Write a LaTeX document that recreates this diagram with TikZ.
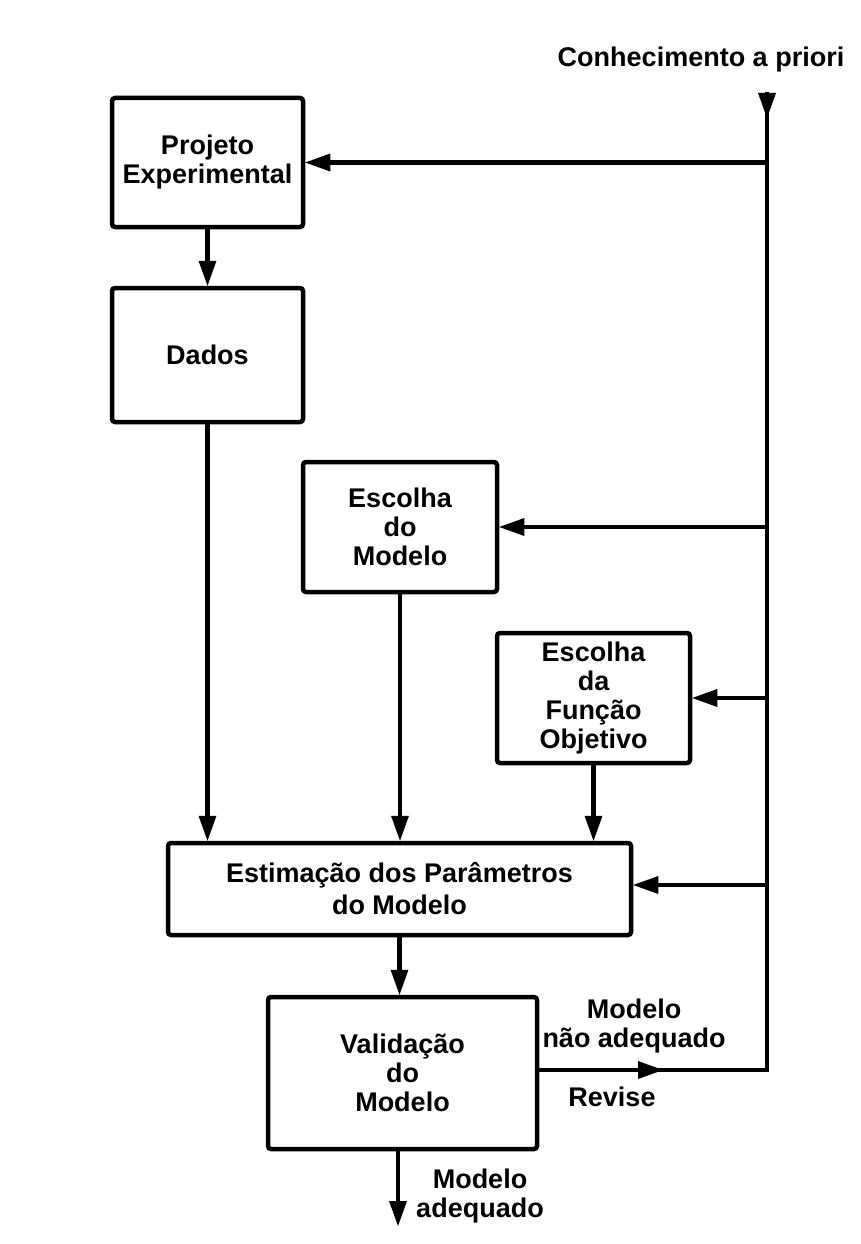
\documentclass[tikz,border=0pt]{standalone}
\usepackage{fontspec}
\setmainfont{Liberation Sans}
\usetikzlibrary{positioning,arrows.meta}
\tikzset{
  % process box
  block/.style={
    draw,
    line width=4.5pt,
    rounded corners=3pt,
    align=center,
    inner sep=2pt,
    font=\fontsize{27}{29}\selectfont\bfseries
  },
  % plain connector
  line/.style={
    draw,
    line width=4.5pt
  },
  % connector with arrow
  arr/.style={
    line,
    -{Triangle[length=25pt,width=18pt,line width=0pt]}
  },
  % free text
  lbl/.style={
    align=center,
    font=\fontsize{27}{29}\selectfont\bfseries
  }
}
\begin{document}
\begin{tikzpicture}[x=1pt,y=-1pt]
  \useasboundingbox (0,0) rectangle (860,1244);

  \node[block, minimum width=191pt, minimum height=129pt] (proj)   at (207.5,162.5) {Projeto\\Experimental};
  \node[block, minimum width=191pt, minimum height=134pt] (dados)  at (207.5,355)   {Dados};
  \node[block, minimum width=194pt, minimum height=130pt] (modelo) at (400,527)     {Escolha\\do\\Modelo};
  \node[block, minimum width=193pt, minimum height=130pt] (funcao) at (593.5,698)   {Escolha\\da\\Função\\Objetivo};
  \node[block, minimum width=463pt, minimum height=92pt]  (estim)  at (399.5,889)   {Estimação dos Parâmetros\\[3pt]do Modelo};
  \node[block, minimum width=269pt, minimum height=152pt] (valid)  at (402.5,1073)  {Validação\\do\\Modelo};

  \node[lbl] (prior)   at (701,60)   {Conhecimento a priori};
  \node[lbl] (naoadeq) at (634,1026) {Modelo\\não adequado};
  \node[lbl] (revise)  at (612,1097) {Revise};
  \node[lbl] (adeq)    at (480,1196) {Modelo\\adequado};

  \coordinate (top)    at (767,92);
  \coordinate (toptip) at (767,118);
  \coordinate (j1)     at (767,162.5);
  \coordinate (j2)     at (767,527);
  \coordinate (j3)     at (767,698);
  \coordinate (j4)     at (767,885);
  \coordinate (corner) at (767,1070);
  \coordinate (revtip) at (663,1070);
  \coordinate (out)    at (398,1226);

  % feedback loop
  \draw[line] (top) -- (corner) -- (valid.east |- corner);
  \draw[arr] (top) -- (toptip);
  \draw[arr] (valid.east |- corner) -- (revtip);

  \draw[arr] (j1) -- (j1 -| proj.east);
  \draw[arr] (j2) -- (j2 -| modelo.east);
  \draw[arr] (j3) -- (j3 -| funcao.east);
  \draw[arr] (j4) -- (j4 -| estim.east);

  \draw[arr] (proj) -- (dados);
  \draw[arr] (dados) -- (dados |- estim.north);
  \draw[arr] (modelo) -- (modelo |- estim.north);
  \draw[arr] (funcao) -- (funcao |- estim.north);
  \draw[arr] (estim) -- (estim |- valid.north);
  \draw[arr] (valid.south -| out) -- (out);
\end{tikzpicture}
\end{document}
